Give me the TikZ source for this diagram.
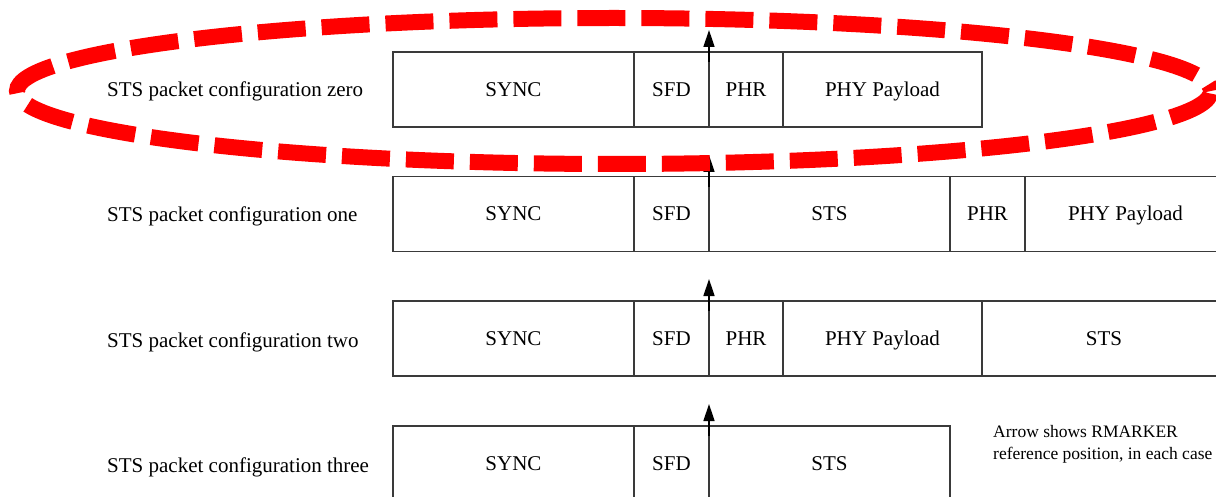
\documentclass[tikz,border=0pt]{standalone}
\usepackage{fontspec}
\setmainfont{Liberation Serif}
\usetikzlibrary{arrows.meta}
\definecolor{boxline}{HTML}{3A3A3A}
\begin{document}
\begin{tikzpicture}[x=1pt,y=-1pt,
  cell/.style={draw=boxline, line width=1.3pt, minimum height=75pt, inner sep=0pt,
    text height=14pt, text depth=0pt, font=\fontsize{21}{25}\selectfont},
  rowlabel/.style={anchor=west, inner sep=0pt, text height=14pt, text depth=0pt,
    font=\fontsize{21}{25}\selectfont},
  note/.style={anchor=west, align=left, inner sep=0pt, font=\fontsize{17.5}{22}\selectfont},
  marker/.style={line width=1.5pt, black, -{Triangle[length=17pt,width=11pt]}},
  highlight/.style={draw=red, line width=16pt, dash pattern=on 48pt off 16pt, dash phase=41pt}]
\clip (0,0) rectangle (1216,497);
\fill[white] (0,0) rectangle (1216,497);
% labels
\node[rowlabel] (l0) at (107,90) {STS packet configuration zero};
\node[rowlabel] (l1) at (107,215) {STS packet configuration one};
\node[rowlabel] (l2) at (107,340.5) {STS packet configuration two};
\node[rowlabel] (l3) at (107,465) {STS packet configuration three};
% row zero
\node[cell, minimum width=241pt] (z1) at (513.5,89.5) {SYNC};
\node[cell, minimum width=75pt] (z2) at (671.5,89.5) {SFD};
\node[cell, minimum width=74pt] (z3) at (746,89.5) {PHR};
\node[cell, minimum width=199pt] (z4) at (882.5,89.5) {PHY Payload};
% row one
\node[cell, minimum width=241pt] (o1) at (513.5,214) {SYNC};
\node[cell, minimum width=75pt] (o2) at (671.5,214) {SFD};
\node[cell, minimum width=241pt] (o3) at (829.5,214) {STS};
\node[cell, minimum width=75pt] (o4) at (987.5,214) {PHR};
\node[cell, minimum width=201pt] (o5) at (1125.5,214) {PHY Payload};
% row two
\node[cell, minimum width=241pt] (t1) at (513.5,338.5) {SYNC};
\node[cell, minimum width=75pt] (t2) at (671.5,338.5) {SFD};
\node[cell, minimum width=74pt] (t3) at (746,338.5) {PHR};
\node[cell, minimum width=199pt] (t4) at (882.5,338.5) {PHY Payload};
\node[cell, minimum width=244pt] (t5) at (1104,338.5) {STS};
% row three
\node[cell, minimum width=241pt] (h1) at (513.5,463.5) {SYNC};
\node[cell, minimum width=75pt] (h2) at (671.5,463.5) {SFD};
\node[cell, minimum width=241pt] (h3) at (829.5,463.5) {STS};
% RMARKER arrows
\coordinate (a0s) at (709,62);  \coordinate (a0e) at (709,30);
\coordinate (a1s) at (709,187); \coordinate (a1e) at (709,155);
\coordinate (a2s) at (709,311); \coordinate (a2e) at (709,279);
\coordinate (a3s) at (709,436); \coordinate (a3e) at (709,404);
\draw[marker] (a0s) -- (a0e);
\draw[marker] (a1s) -- (a1e);
\draw[marker] (a2s) -- (a2e);
\draw[marker] (a3s) -- (a3e);
% note
\node[note] (nt) at (993,444) {Arrow shows RMARKER\\reference position, in each case};
% highlight ellipse
\draw[highlight] (614,91) ellipse [x radius=597pt, y radius=73pt];
\end{tikzpicture}
\end{document}
